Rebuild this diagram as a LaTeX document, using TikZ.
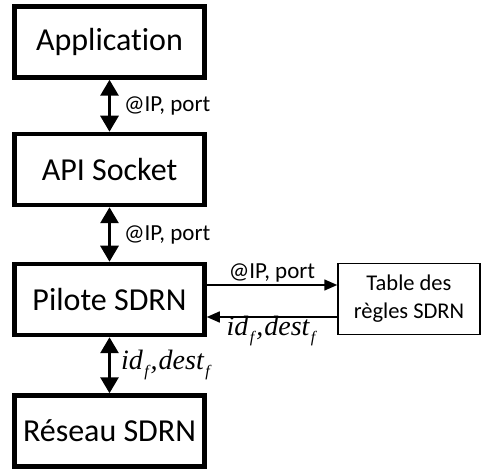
\documentclass[tikz,border=0pt]{standalone}
\usepackage{fontspec}
\setmainfont{Carlito}[Ligatures=NoCommon]
\newfontfamily\tms{Liberation Serif}
\usetikzlibrary{arrows.meta}
\newcommand{\subf}{\kern1.5pt\raisebox{-7pt}{\fontsize{16}{18}\selectfont f}\kern2pt}
\begin{document}
\begin{tikzpicture}[x=1pt,y=-1pt,
  bigbox/.style={draw=black,line width=4.5pt,minimum width=190pt,minimum height=71pt,inner sep=0pt,font=\fontsize{32}{36}\selectfont},
  smallbox/.style={draw=black,line width=1.5pt,minimum width=142pt,minimum height=71pt,inner sep=0pt,align=center,font=\fontsize{22.5}{28}\selectfont},
  vbiarrow/.style={line width=3pt,{Triangle[length=16pt,width=18pt]}-{Triangle[length=16pt,width=18pt]}},
  harrow/.style={line width=1.5pt,-{Triangle[length=13pt,width=11pt]}},
  lbl/.style={font=\fontsize{23}{27}\selectfont,inner sep=1pt},
  mlbl/.style={font=\fontsize{28}{32}\selectfont\tms\itshape,inner sep=1pt}]
\useasboundingbox (0,0) rectangle (482,470);
\node[bigbox] (app) at (109.5,42) {Application};
\node[bigbox] (api) at (109.5,169.5) {API Socket};
\node[bigbox] (pil) at (109.5,299.5) {Pilote SDRN};
\node[bigbox] (res) at (109.5,431) {Réseau SDRN};
\node[smallbox] (tab) at (409,299) {Table des\\règles SDRN};
\draw[vbiarrow] (app.south) -- (api.north) node[midway,right=12pt,lbl] (l1) {@IP, port};
\draw[vbiarrow] (api.south) -- (pil.north) node[midway,right=12pt,lbl] (l2) {@IP, port};
\draw[vbiarrow] (pil.south) -- (res.north) node[midway,right=9pt,mlbl] (l3) {id\subf,\kern1pt dest\subf};
\coordinate (pa) at (pil.east |- 0,285);
\coordinate (ta) at (tab.west |- 0,285);
\coordinate (pb) at (pil.east |- 0,317);
\coordinate (tb) at (tab.west |- 0,317);
\draw[harrow] (pa) -- (ta) node[midway,above=1pt,lbl] (l4) {@IP, port};
\draw[harrow] (tb) -- (pb) node[midway,below=-3pt,mlbl] (l5) {id\subf,\kern1pt dest\subf};
\end{tikzpicture}
\end{document}
